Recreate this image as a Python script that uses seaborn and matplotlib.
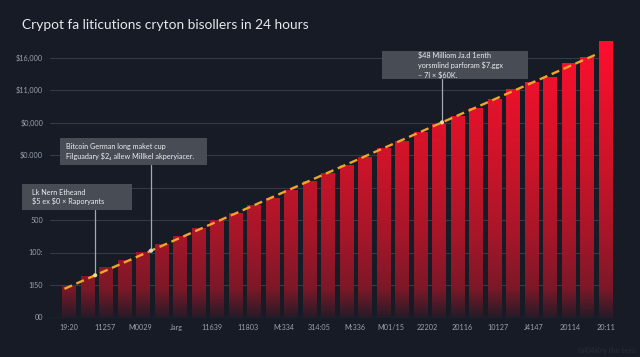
import numpy as np
import pandas as pd
import matplotlib
matplotlib.use('Agg')
import matplotlib.pyplot as plt
import seaborn as sns
from matplotlib.colors import LinearSegmentedColormap
from matplotlib.patches import Rectangle

# ---- data ----
bar_values = [950, 1260, 1520, 1730, 1980, 2240, 2470, 2710, 2960, 3180,
              3430, 3660, 3900, 4170, 4420, 4670, 4920, 5180, 5410, 5680,
              5930, 6180, 6420, 6680, 6990, 7220, 7370, 7800, 7980, 8490]
x_labels = ["19:20", "11257", "M0029", "Jarg", "11639", "11803", "M:334", "314:05",
            "M:336", "M01/15", "22202", "20116", "10127", "J4147", "20114", "20:11"]
y_ticks = [0, 1000, 2000, 3000, 4000, 5000, 6000, 7000, 8000]
y_labels = ["00", "1l50", "100:", "500", "", "$0.000", "$0,000", "$11,000", "$16,000"]

title = "Crypot fa liticutions cryton bisollers in 24 hours"
notes = [
    "Lk Nern Etheand\n$5 ex $0 × Raporyants",
    "Bitcoin German long maket cup\nFilguadary $2₄ allew Millkel akperyiacer.",
    "$48 Milliom Ja.d 1enth\nyorsmlind parforam $7.ggx\n– 7l × $60K.",
]
note_slots = [1.41, 4.43, 20.16]

# ---- style ----
BG = "#161b26"
GRID = "#343a46"
TICK = "#9ca3ae"
TREND = "#f2a42a"
W, H = 640, 357

sns.set_theme(style="dark")
plt.rcParams['font.family'] = ['Lato', 'DejaVu Sans']
plt.rcParams['text.parse_math'] = False  # dollar signs are plain text here

bar_cmap = LinearSegmentedColormap.from_list(
    "redfade", [(0.0, "#2a1b28"), (0.1, "#7c1827"), (0.3, "#a8162a"),
                (0.55, "#cc1429"), (1.0, "#ff0f2e")])

df = pd.DataFrame({"slot": np.arange(len(bar_values)), "value": bar_values})

fig = plt.figure(figsize=(W / 100, H / 100), dpi=100, facecolor=BG)
ax = fig.add_axes([50 / W, 1 - 317.5 / H, 563 / W, 279.5 / H])
ax.set_facecolor(BG)

ymax = 8600
ax.set_yticks(y_ticks)
ax.yaxis.grid(True, color=GRID, lw=0.8)
ax.xaxis.grid(False)
ax.set_axisbelow(True)

sns.barplot(data=df, x="slot", y="value", color="#c0142a", width=0.73,
            ax=ax, zorder=2)

# vertical gradient in every bar, darker near the baseline
for patch in list(ax.patches):
    x0, w, h = patch.get_x(), patch.get_width(), patch.get_height()
    grad = np.linspace(0, h / ymax, 200).reshape(-1, 1)
    ax.imshow(grad, cmap=bar_cmap, vmin=0, vmax=1, origin='lower',
              extent=[x0, x0 + w, 0, h], aspect='auto', zorder=2)
    patch.set_visible(False)

# dashed trend line
coef = np.polyfit(df["slot"], df["value"], 1)
tx = np.array([-0.25, 28.6])
ax.plot(tx, np.polyval(coef, tx), color=TREND, lw=1.7, ls=(0, (3.5, 2.0)),
        zorder=3, dash_capstyle='butt')

ax.set_xlim(-1.03, 29.4)
ax.set_ylim(0, ymax)
ax.set_yticklabels(y_labels)
ax.set_xticks(np.linspace(0, len(bar_values) - 1, len(x_labels)))
ax.set_xticklabels(x_labels)
ax.tick_params(axis='both', colors=TICK, labelsize=5.2, length=0, pad=5)
ax.set_xlabel("")
ax.set_ylabel("")
for s in ax.spines.values():
    s.set_visible(False)
ax.axhline(0, color="#3c4350", lw=0.9, zorder=1)

fig.text(22 / W, 1 - 25 / H, title, color="#e6e8ec", fontsize=9.9,
         va='center', ha='left')
fig.text(636 / W, 1 - 350 / H, "fal04Kry the teris", color="#272d39",
         fontsize=5.5, ha='right', va='center')

# annotation boxes (pixel layout: left, top, right, bottom, text x)
boxes = [(22, 184, 132, 210, 32), (60, 138, 207, 165, 66), (382, 51, 528, 79, 418)]
dot_colors = ["#e8dc9a", "#d4d8de", "#e8dc9a"]
inv = ax.transData.inverted()
for note, slot, (l, t, r, b, tx0), dc in zip(notes, note_slots, boxes, dot_colors):
    fig.add_artist(Rectangle((l / W, 1 - b / H), (r - l) / W, (b - t) / H,
                             transform=fig.transFigure, facecolor="#4a4f58",
                             edgecolor='none', alpha=0.95, zorder=5))
    fig.text(tx0 / W, 1 - (t + b) / 2 / H, note, color="#eceef0", fontsize=5.2,
             ha='left', va='center', linespacing=1.35, zorder=6)
    y_anchor = np.polyval(coef, slot)
    y_box = inv.transform((0, H - b))[1]
    ax.plot([slot, slot], [y_anchor, y_box], color="#a4a9b1", lw=0.9,
            zorder=4, clip_on=False)
    ax.scatter([slot], [y_anchor], s=9, color=dc, zorder=5, edgecolor='none')

fig.savefig("out.png", dpi=100, facecolor=BG)
